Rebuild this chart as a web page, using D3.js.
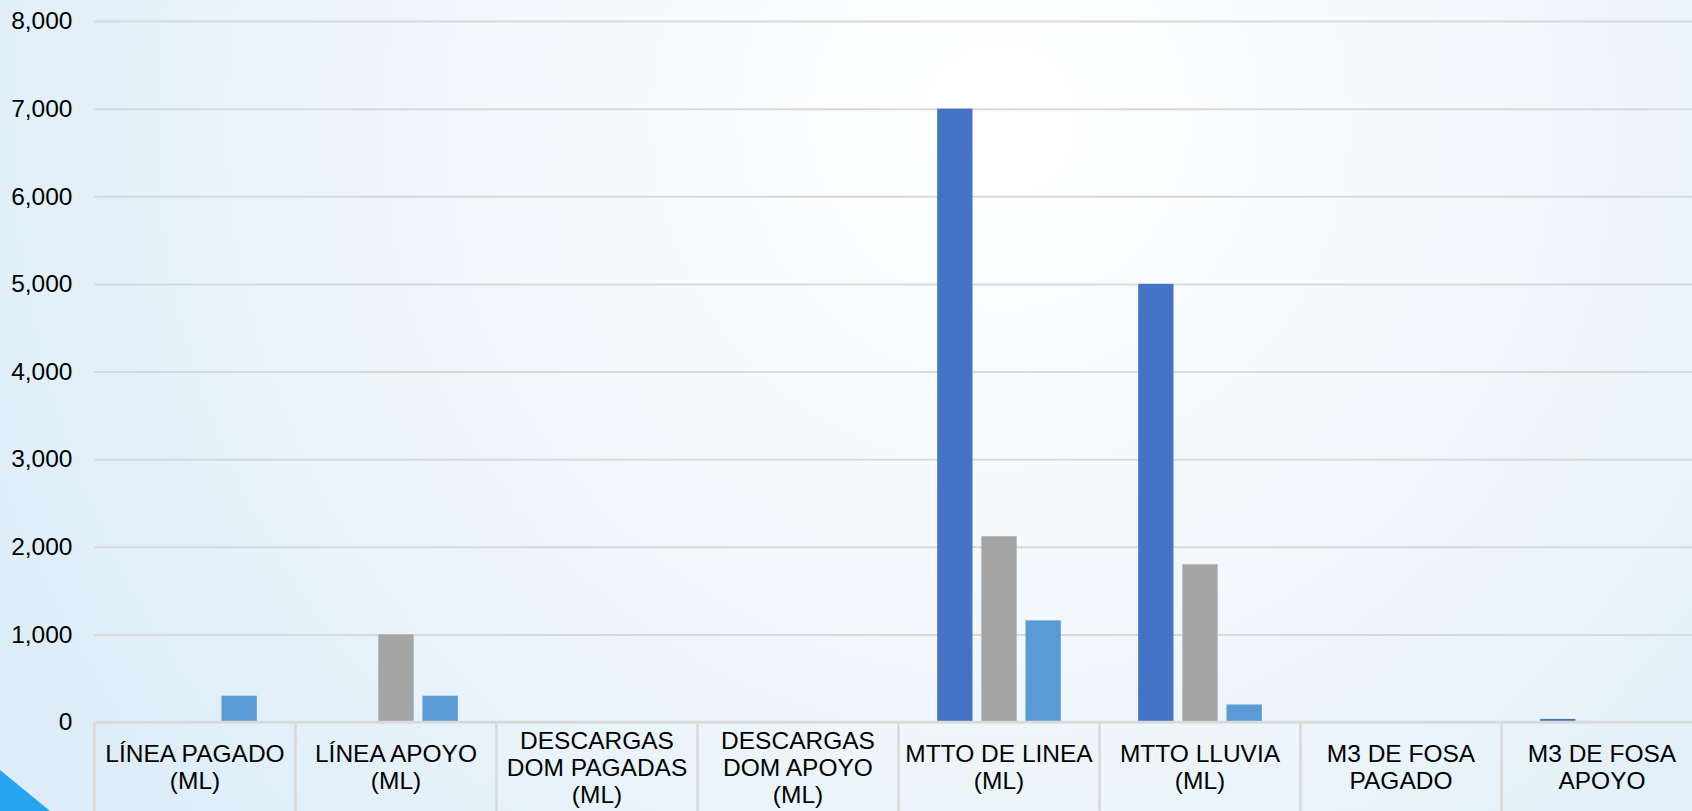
<!DOCTYPE html>
<html>
<head>
<meta charset="utf-8">
<script src="https://cdn.jsdelivr.net/npm/d3@7"></script>
<style>
  html, body { margin: 0; padding: 0; overflow: hidden; }
  svg { display: block; font-family: "Liberation Sans", Arial, sans-serif; }
</style>
</head>
<body>
<div id="chart"></div>
<script>
const categories = [
    ['LÍNEA PAGADO', '(ML)'],
    ['LÍNEA APOYO', '(ML)'],
    ['DESCARGAS', 'DOM PAGADAS', '(ML)'],
    ['DESCARGAS', 'DOM APOYO', '(ML)'],
    ['MTTO DE LINEA', '(ML)'],
    ['MTTO LLUVIA', '(ML)'],
    ['M3 DE FOSA', 'PAGADO'],
    ['M3 DE FOSA', 'APOYO']
]
const seriesNames = ['Serie1', 'Serie2', 'Serie3']
const serie1 = [0, 0, 0, 0, 7000, 5000, 0, 35]
const serie2 = [0, 1000, 0, 0, 2120, 1800, 0, 0]
const serie3 = [300, 300, 0, 0, 1160, 200, 0, 0]
const yTicks = [0, 1000, 2000, 3000, 4000, 5000, 6000, 7000, 8000]
const colors = ['#4472C4', '#A5A5A5', '#5B9BD5']

const w = 1692, h = 811
const left = 94.5, y0 = 722, yTop = 21
const catW = 201

const svg = d3.select('#chart')
    .append('svg')
    .attr('width', w)
    .attr('height', h)

// background
const defs = svg.append('defs')
const grad = defs.append('radialGradient')
    .attr('id', 'bg')
    .attr('gradientUnits', 'userSpaceOnUse')
    .attr('cx', 1000).attr('cy', 120).attr('r', 1100)
grad.append('stop').attr('offset', '0%').attr('stop-color', '#ffffff')
grad.append('stop').attr('offset', '45%').attr('stop-color', '#f3f8fc')
grad.append('stop').attr('offset', '100%').attr('stop-color', '#ddedf8')
svg.append('rect').attr('width', w).attr('height', h).attr('fill', 'url(#bg)')

svg.append('path')
    .attr('d', `M0,770 L50,${h} L0,${h} Z`)
    .attr('fill', '#27a4ef')

const keys = categories.map(c => c.join(' '))

const x = d3.scaleBand()
    .domain(keys)
    .range([left, left + catW * keys.length])
    .paddingInner(0).paddingOuter(0)

const x1 = d3.scaleBand()
    .domain(seriesNames)
    .range([0, x.bandwidth()])
    .paddingInner(0.2)
    .paddingOuter(0.876)

const y = d3.scaleLinear()
    .domain([0, 8000])
    .range([y0, yTop])

// gridlines
const yAxis = d3.axisLeft(y)
    .tickValues(yTicks)
    .tickSize(-(w - left))
    .tickPadding(22)
    .tickFormat(d3.format(','))
const gy = svg.append('g')
    .attr('transform', `translate(${left},0)`)
    .call(yAxis)
gy.select('.domain').remove()
gy.selectAll('.tick line')
    .attr('stroke', '#d9d9d9')
    .attr('stroke-width', 2)
gy.selectAll('.tick text')
    .attr('fill', '#000')
    .style('font-size', '24.5px')
    .style('font-family', '"Liberation Sans", Arial, sans-serif')

// bars
const series = [serie1, serie2, serie3]
const rows = keys.map((k, i) => ({ key: k, values: series.map((s, j) => ({ name: seriesNames[j], v: s[i], c: colors[j] })) }))

svg.append('g')
    .selectAll('g')
    .data(rows)
    .enter()
    .append('g')
    .attr('transform', d => `translate(${x(d.key)},0)`)
    .selectAll('rect')
    .data(d => d.values.filter(e => e.v > 0))
    .enter()
    .append('rect')
    .attr('x', d => x1(d.name))
    .attr('y', d => y(d.v))
    .attr('width', x1.bandwidth())
    .attr('height', d => y0 - y(d.v))
    .attr('fill', d => d.c)

// category axis with box borders
const xAxis = d3.axisBottom(x).tickSize(0).tickFormat('')
const gx = svg.append('g')
    .attr('transform', `translate(0,${y0})`)
    .call(xAxis)
gx.select('.domain')
    .attr('d', `M${left},0H${w}`)
    .attr('stroke', '#d9d9d9')
    .attr('stroke-width', 2.5)

const bounds = keys.map(k => x(k)).concat([x.range()[1]])
gx.selectAll('line.sep')
    .data(bounds)
    .enter()
    .append('line')
    .attr('class', 'sep')
    .attr('x1', d => d).attr('x2', d => d)
    .attr('y1', 0).attr('y2', h - y0)
    .attr('stroke', '#d9d9d9')
    .attr('stroke-width', 2.5)

const lineH = 27, midY = 767 - y0
categories.forEach((lines, i) => {
    const t = gx.append('text')
        .attr('x', x(keys[i]) + x.bandwidth() / 2)
        .attr('text-anchor', 'middle')
        .style('font-size', '24.5px')
        .attr('fill', '#000')
    lines.forEach((ln, j) => {
        t.append('tspan')
            .attr('x', x(keys[i]) + x.bandwidth() / 2)
            .attr('y', midY + (j - (lines.length - 1) / 2) * lineH)
            .attr('dy', '0.35em')
            .text(ln)
    })
})
</script>
</body>
</html>
